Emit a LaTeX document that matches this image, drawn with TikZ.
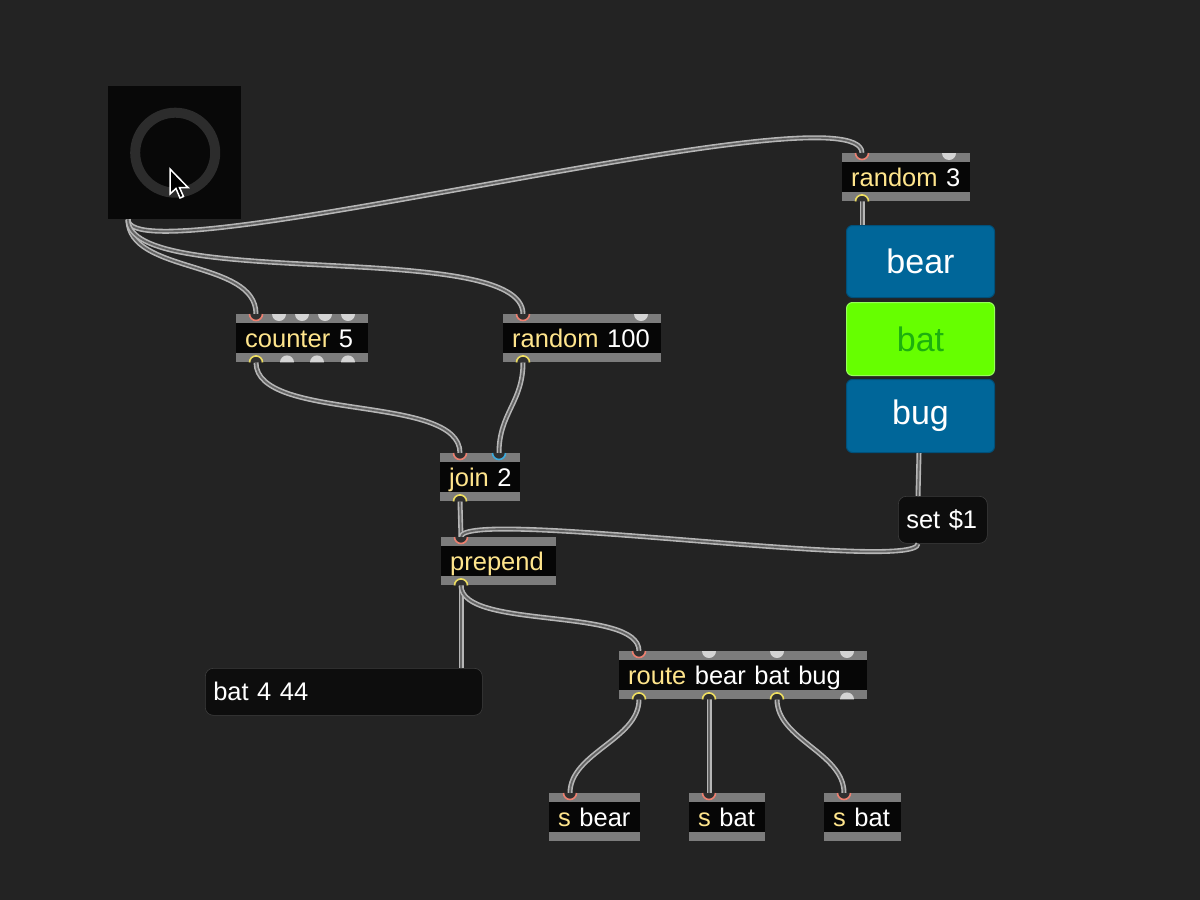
\documentclass[tikz,border=0pt]{standalone}
\usepackage{fontspec}
\setmainfont{Liberation Sans}
\definecolor{bgc}{RGB}{35,35,35}
\definecolor{dialfill}{RGB}{8,8,8}
\definecolor{ringgray}{RGB}{44,44,44}
\definecolor{objblack}{RGB}{6,6,6}
\definecolor{stripgray}{RGB}{124,124,124}
\definecolor{portfreec}{RGB}{212,212,212}
\definecolor{portdarkc}{RGB}{48,48,48}
\definecolor{inred}{RGB}{236,128,112}
\definecolor{inblue}{RGB}{60,170,220}
\definecolor{outyel}{RGB}{238,222,96}
\definecolor{objyel}{RGB}{255,229,140}
\definecolor{cableout}{RGB}{182,182,182}
\definecolor{cablein}{RGB}{100,100,100}
\definecolor{btnblue}{RGB}{0,102,153}
\definecolor{btnblueedge}{RGB}{0,80,122}
\definecolor{btngreen}{RGB}{102,255,0}
\definecolor{btngreenedge}{RGB}{150,255,90}
\definecolor{battext}{RGB}{28,176,14}
\definecolor{msgfill}{RGB}{13,13,13}
\newcommand\kw[1]{\textcolor{objyel}{#1}}
\newcommand\freeIn[2]{\fill[portfreec] ([xshift=#2pt]#1.north west) ++(-7pt,0pt) arc[start angle=180,end angle=360,radius=7pt] -- cycle;}
\newcommand\freeOut[2]{\fill[portfreec] ([xshift=#2pt]#1.south west) ++(-7pt,0pt) arc[start angle=180,end angle=0,radius=7pt] -- cycle;}
\newcommand\ringIn[2]{%
  \fill[portdarkc] (#1) ++(-6.5pt,0pt) arc[start angle=180,end angle=360,radius=6.5pt] -- cycle;
  \draw[#2, line width=1.6pt] (#1) ++(-6.5pt,0pt) arc[start angle=180,end angle=360,radius=6.5pt];}
\newcommand\ringOut[2]{%
  \fill[portdarkc] (#1) ++(-6.5pt,0pt) arc[start angle=180,end angle=0,radius=6.5pt] -- cycle;
  \draw[#2, line width=1.6pt] (#1) ++(-6.5pt,0pt) arc[start angle=180,end angle=0,radius=6.5pt];}
\begin{document}
\begin{tikzpicture}[x=1pt,y=-1pt,
  objbox/.style={rectangle, fill=objblack, anchor=north west, minimum height=48pt,
    inner xsep=9pt, inner ysep=0pt, align=left, text height=19pt, text depth=1pt,
    text=white, font=\fontsize{25.5pt}{30pt}\selectfont},
  msgbox/.style={rectangle, rounded corners=8pt, fill=msgfill, draw=msgfill!80!white, line width=0.6pt,
    anchor=north west, minimum height=47pt, inner xsep=8pt, inner ysep=0pt, align=left,
    text height=19pt, text depth=1pt, text=white, font=\fontsize{25.5pt}{30pt}\selectfont},
  btnbox/.style={rectangle, rounded corners=6pt, anchor=north west, minimum width=148pt,
    line width=1pt, font=\fontsize{34pt}{40pt}\selectfont},
  bluebtn/.style={btnbox, fill=btnblue, draw=btnblueedge, text=white},
  greenbtn/.style={btnbox, fill=btngreen, draw=btngreenedge, text=battext},
  cable/.style={draw=cableout, line width=5pt, postaction={draw=cablein, line width=1.8pt}}]
\useasboundingbox (0,0) rectangle (1200,900);
\fill[bgc] (0,0) rectangle (1200,900);

% dial
\node[rectangle, fill=dialfill, minimum width=133pt, minimum height=133pt, inner sep=0pt, anchor=north west] (dial) at (108,86) {};
\draw[ringgray, line width=10pt] ([xshift=0.5pt]dial.center) circle[radius=40pt];
\filldraw[fill=black, draw=white, line width=1.5pt, line join=miter]
  (170,169) -- ++(0,25) -- ++(6,-5.5) -- ++(4,9.5) -- ++(3.5,-1.5) -- ++(-4,-9) -- ++(8.5,0) -- cycle;

% objects
\node[objbox, text width=114pt] (counter) at (236,314) {\mbox{\kw{counter} 5}};
\node[objbox, text width=140pt] (random100) at (503,314) {\mbox{\kw{random} 100}};
\node[objbox, text width=62pt] (join) at (440,453) {\mbox{\kw{join} 2}};
\node[objbox, text width=97pt] (prepend) at (441,537) {\mbox{\kw{prepend}}};
\node[objbox, text width=230pt] (route) at (619,651) {\mbox{\kw{route} bear bat bug}};
\node[objbox, text width=73pt] (sbear) at (549,793) {\mbox{\kw{s} bear}};
\node[objbox, text width=58pt] (sbat1) at (689,793) {\mbox{\kw{s} bat}};
\node[objbox, text width=59pt] (sbat2) at (824,793) {\mbox{\kw{s} bat}};
\node[objbox, text width=110pt] (random3) at (842,153) {\mbox{\kw{random} 3}};
\foreach \o in {counter,random100,join,prepend,route,sbear,sbat1,sbat2,random3}{
  \fill[stripgray] (\o.north west) rectangle ([yshift=-9pt]\o.north east);
  \fill[stripgray] ([yshift=9pt]\o.south west) rectangle (\o.south east);
}

% buttons
\node[bluebtn, minimum height=72pt] (bear) at (846,225) {bear};
\node[greenbtn, minimum height=73pt] (bat) at (846,302) {bat};
\node[bluebtn, minimum height=73pt] (bug) at (846,379) {bug};

% messages
\node[msgbox, text width=73pt] (set1) at (898,496) {\mbox{set \$1}};
\node[msgbox, text width=261pt] (msg) at (205,668) {\mbox{bat 4 44}};

% port coordinates
\coordinate (dial-out) at ([xshift=20pt]dial.south west);
\coordinate (cnt-in) at ([xshift=20pt]counter.north west);
\coordinate (cnt-out) at ([xshift=20pt]counter.south west);
\coordinate (r100-in) at ([xshift=20pt]random100.north west);
\coordinate (r100-out) at ([xshift=20pt]random100.south west);
\coordinate (join-in1) at ([xshift=20pt]join.north west);
\coordinate (join-in2) at ([xshift=59pt]join.north west);
\coordinate (join-out) at ([xshift=20pt]join.south west);
\coordinate (pre-in) at ([xshift=20pt]prepend.north west);
\coordinate (pre-out) at ([xshift=20pt]prepend.south west);
\coordinate (route-in) at ([xshift=20pt]route.north west);
\coordinate (route-o1) at ([xshift=20pt]route.south west);
\coordinate (route-o2) at ([xshift=90pt]route.south west);
\coordinate (route-o3) at ([xshift=158pt]route.south west);
\coordinate (sbear-in) at ([xshift=21pt]sbear.north west);
\coordinate (sbat1-in) at ([xshift=20pt]sbat1.north west);
\coordinate (sbat2-in) at ([xshift=20pt]sbat2.north west);
\coordinate (r3-in) at ([xshift=20pt]random3.north west);
\coordinate (r3-out) at ([xshift=20pt]random3.south west);
\coordinate (bear-in) at ([xshift=16pt]bear.north west);
\coordinate (bug-out) at ([xshift=73pt]bug.south west);
\coordinate (set-in) at ([xshift=20pt]set1.north west);
\coordinate (set-out) at ([xshift=20pt]set1.south west);
\coordinate (msg-in) at ([xshift=256pt]msg.north west);

% cables
\draw[cable] (dial-out) .. controls +(0,61) and +(0,-70) .. (r3-in);
\draw[cable] (dial-out) .. controls +(0,55) and +(0,-55) .. (cnt-in);
\draw[cable] (dial-out) .. controls +(0,72) and +(0,-76) .. (r100-in);
\draw[cable] (cnt-out) .. controls +(0,60) and +(0,-60) .. (join-in1);
\draw[cable] (r100-out) .. controls +(0,40) and +(0,-40) .. (join-in2);
\draw[cable] (join-out) -- (pre-in);
\draw[cable] (r3-out) -- (bear-in);
\draw[cable] (bug-out) -- (set-in);
\draw[cable] (set-out) .. controls +(0,30) and +(0,-30) .. (pre-in);
\draw[cable] (pre-out) -- (msg-in);
\draw[cable] (pre-out) .. controls +(0,45) and +(0,-45) .. (route-in);
\draw[cable] (route-o1) .. controls +(0,40) and +(0,-40) .. (sbear-in);
\draw[cable] (route-o2) -- (sbat1-in);
\draw[cable] (route-o3) .. controls +(0,40) and +(0,-40) .. (sbat2-in);

% free ports
\freeIn{counter}{43}\freeIn{counter}{66}\freeIn{counter}{89}\freeIn{counter}{112}
\freeOut{counter}{51}\freeOut{counter}{81}\freeOut{counter}{112}
\freeIn{random100}{138}
\freeIn{route}{90}\freeIn{route}{158}\freeIn{route}{228}
\freeOut{route}{228}
\freeIn{random3}{107}

% connected ports
\ringIn{cnt-in}{inred}\ringOut{cnt-out}{outyel}
\ringIn{r100-in}{inred}\ringOut{r100-out}{outyel}
\ringIn{join-in1}{inred}\ringIn{join-in2}{inblue}\ringOut{join-out}{outyel}
\ringIn{pre-in}{inred}\ringOut{pre-out}{outyel}
\ringIn{route-in}{inred}
\ringOut{route-o1}{outyel}\ringOut{route-o2}{outyel}\ringOut{route-o3}{outyel}
\ringIn{sbear-in}{inred}\ringIn{sbat1-in}{inred}\ringIn{sbat2-in}{inred}
\ringIn{r3-in}{inred}\ringOut{r3-out}{outyel}
\end{tikzpicture}
\end{document}
